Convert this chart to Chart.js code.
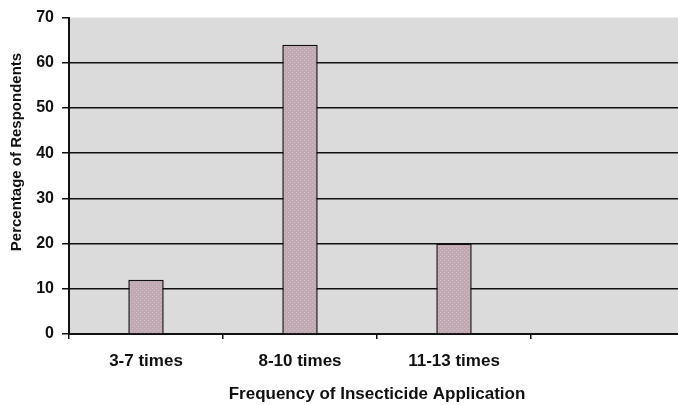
<!DOCTYPE html>
<html>
<head>
<meta charset="utf-8">
<script src="https://cdn.jsdelivr.net/npm/chart.js@4"></script>
<style>
  html, body { margin: 0; padding: 0; background: #fff; overflow: hidden; }
  #wrap { width: 678px; height: 405px; overflow: hidden; }
</style>
</head>
<body>
<div id="wrap"><canvas id="myChart" width="685" height="405"></canvas></div>
<script>
// Dữ liệu
var categories = ['3-7 times', '8-10 times', '11-13 times', ''];
var percentValues = [12, 64, 20, null];
var yTicks = [0, 10, 20, 30, 40, 50, 60, 70];
var yTitle = 'Percentage of Respondents';
var xTitle = 'Frequency of Insecticide Application';

var FONT = 'Liberation Sans, Arial, sans-serif';

// Nền xám cho vùng vẽ + tiêu đề trục Y (lệch lên trên như ảnh gốc)
var plotExtras = {
    id: 'plotExtras',
    beforeDraw: function (chart) {
        var a = chart.chartArea;
        var c = chart.ctx;
        c.save();
        c.fillStyle = '#dbdbdb';
        c.fillRect(a.left, a.top, a.right - a.left, a.bottom - a.top);
        c.restore();
    },
    afterDraw: function (chart) {
        var c = chart.ctx;
        c.save();
        c.translate(17, 152);
        c.rotate(-Math.PI / 2);
        c.fillStyle = '#111';
        c.font = 'bold 15px ' + FONT;
        c.textAlign = 'center';
        c.textBaseline = 'middle';
        c.fillText(yTitle, 0, 0);
        c.restore();
    }
};

// Mẫu chấm cho cột
function makePattern() {
    var p = document.createElement('canvas');
    p.width = 4; p.height = 4;
    var pc = p.getContext('2d');
    pc.fillStyle = '#c0a9b3';
    pc.fillRect(0, 0, 4, 4);
    pc.fillStyle = '#d0bfc7';
    pc.fillRect(0, 0, 1, 1);
    pc.fillRect(2, 2, 1, 1);
    return pc.createPattern(p, 'repeat');
}

var ctx = document.getElementById('myChart').getContext('2d');
var chart = new Chart(ctx, {
    type: 'bar',
    data: {
        labels: categories,
        datasets: [{
            data: percentValues,
            backgroundColor: makePattern(),
            borderColor: '#111',
            borderWidth: 1.5,
            barPercentage: 0.23,
            categoryPercentage: 1.0
        }]
    },
    options: {
        responsive: false,
        animation: false,
        layout: { padding: { left: 0, top: 17, right: 0, bottom: 0 } },
        plugins: {
            legend: { display: false },
            tooltip: { enabled: false }
        },
        scales: {
            y: {
                min: 0,
                max: 70,
                afterBuildTicks: function (axis) {
                    axis.ticks = yTicks.map(function (v) { return { value: v }; });
                },
                afterFit: function (axis) { axis.width = 69; },
                ticks: {
                    color: '#111',
                    font: { family: FONT, size: 16, weight: 'bold' },
                    padding: 8
                },
                grid: {
                    color: function (c) {
                        return (c.tick && (c.tick.value === 70 || c.tick.value === 0)) ? 'rgba(0,0,0,0)' : '#111';
                    },
                    tickColor: '#111',
                    lineWidth: 1.5,
                    tickLength: 7
                },
                border: { color: '#111', width: 2 }
            },
            x: {
                offset: true,
                afterFit: function (axis) { axis.height = 71; },
                ticks: {
                    color: '#111',
                    font: { family: FONT, size: 17, weight: 'bold' },
                    padding: 12
                },
                grid: {
                    offset: true,
                    drawOnChartArea: false,
                    tickColor: '#111',
                    lineWidth: 1.5,
                    tickLength: 5
                },
                border: { color: '#111', width: 2 },
                title: {
                    display: true,
                    text: xTitle,
                    color: '#111',
                    font: { family: FONT, size: 17, weight: 'bold' },
                    padding: { top: 10, bottom: 0 }
                }
            }
        }
    },
    plugins: [plotExtras]
});
</script>
</body>
</html>
